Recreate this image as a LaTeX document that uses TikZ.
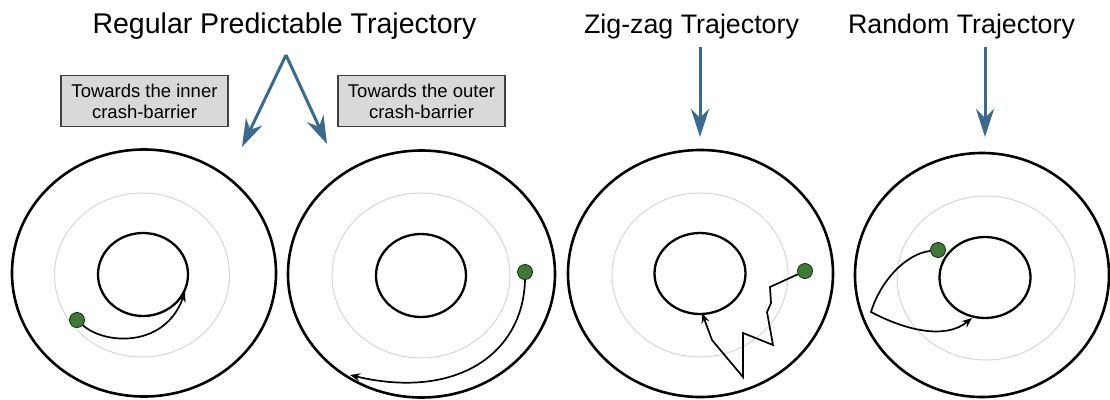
\documentclass[tikz,border=0pt]{standalone}
\usepackage{fontspec}
\setmainfont{Liberation Sans}
\usetikzlibrary{arrows.meta,shapes.geometric}
\definecolor{arrowblue}{HTML}{3B6A8D}
\definecolor{dotgreen}{HTML}{3E7A36}
\definecolor{boxgray}{HTML}{D9D9D9}
\definecolor{ringgray}{HTML}{D6D6D6}
\begin{document}
\begin{tikzpicture}[x=1pt,y=-1pt,
  outerring/.style={ellipse,draw=black,line width=2.6pt,inner sep=0pt,outer sep=0pt},
  midring/.style={ellipse,draw=ringgray,line width=1pt,inner sep=0pt,outer sep=0pt},
  innerring/.style={ellipse,draw=black,line width=2.3pt,inner sep=0pt,outer sep=0pt},
  dot/.style={circle,fill=dotgreen,draw=black!70!dotgreen,line width=0.8pt,minimum size=15pt,inner sep=0pt},
  traj/.style={draw=black,line width=1.7pt,-{Stealth[length=10pt,width=8pt]}},
  bluearrow/.style={draw=arrowblue,line width=3pt,-{Stealth[length=28pt,width=18pt,inset=9pt]}},
  titletext/.style={font=\fontsize{26.8}{30}\selectfont,anchor=base,inner sep=0pt},
  notebox/.style={draw=black!75,fill=boxgray,line width=1.2pt,minimum width=167pt,minimum height=51pt,
    align=center,inner sep=0pt,font=\fontsize{18.5}{21}\selectfont}
]
\useasboundingbox (0,0) rectangle (1110,399);

% titles
\node[titletext,font=\fontsize{28.5}{32}\selectfont] (t1) at (284.5,33) {Regular Predictable Trajectory};
\node[titletext] (t3) at (691.5,33) {Zig-zag Trajectory};
\node[titletext] (t4) at (961.5,33) {Random Trajectory};

% note boxes
\node[notebox] (b1) at (144.5,101) {Towards the inner\\crash-barrier};
\node[notebox] (b2) at (421.5,101) {Towards the outer\\crash-barrier};

% blue arrows
\coordinate (va) at (286,55);
\coordinate (vl) at (242,147);
\coordinate (vr) at (327,144);
\coordinate (z0) at (700,47);
\coordinate (z1) at (700,137);
\coordinate (r0) at (985,47);
\coordinate (r1) at (985,137);
\draw[bluearrow] (va) -- (vl);
\draw[bluearrow] (va) -- (vr);
\draw[bluearrow] (z0) -- (z1);
\draw[bluearrow] (r0) -- (r1);

% panel 1
\node[outerring,minimum width=264pt,minimum height=247pt] (o1) at (144,273) {};
\node[midring,minimum width=175pt,minimum height=164pt] (m1) at (142,275) {};
\node[innerring,minimum width=90pt,minimum height=83pt] (i1) at (143,274.5) {};
\node[dot] (d1) at (77,320) {};
\coordinate (e1) at (185,292);
\draw[traj] (d1) .. controls (105,345) and (165,348) .. (e1);

% panel 2
\node[outerring,minimum width=267pt,minimum height=247pt] (o2) at (421.5,274) {};
\node[midring,minimum width=178pt,minimum height=165pt] (m2) at (421,275.5) {};
\node[innerring,minimum width=90pt,minimum height=83pt] (i2) at (421,275.5) {};
\node[dot] (d2) at (525,272) {};
\coordinate (e2) at (350,375);
\draw[traj] (d2.south) .. controls (523,355) and (455,400) .. (e2);

% panel 3
\node[outerring,minimum width=265pt,minimum height=247pt] (o3) at (700.5,273.5) {};
\node[midring,minimum width=176pt,minimum height=164pt] (m3) at (700,275) {};
\node[innerring,minimum width=91pt,minimum height=81pt] (i3) at (700,273.5) {};
\node[dot] (d3) at (805,271) {};
\coordinate (e3) at (702,313);
\draw[traj,line join=miter] (d3) -- (770,287) -- (771,303) -- (767,312) -- (773,345) -- (743,333)
  -- (743,377) -- (712,340) -- (e3);

% panel 4
\node[outerring,minimum width=254pt,minimum height=244pt] (o4) at (982,275) {};
\node[midring,minimum width=178pt,minimum height=164pt] (m4) at (986,278) {};
\node[innerring,minimum width=91pt,minimum height=81pt] (i4) at (985,277.5) {};
\node[dot] (d4) at (938,250) {};
\coordinate (k4) at (871,312);
\coordinate (e4) at (972,318);
\draw[traj] (d4) .. controls (905,254) and (880,282) .. (k4)
  .. controls (905,330) and (945,340) .. (e4);
\end{tikzpicture}
\end{document}
